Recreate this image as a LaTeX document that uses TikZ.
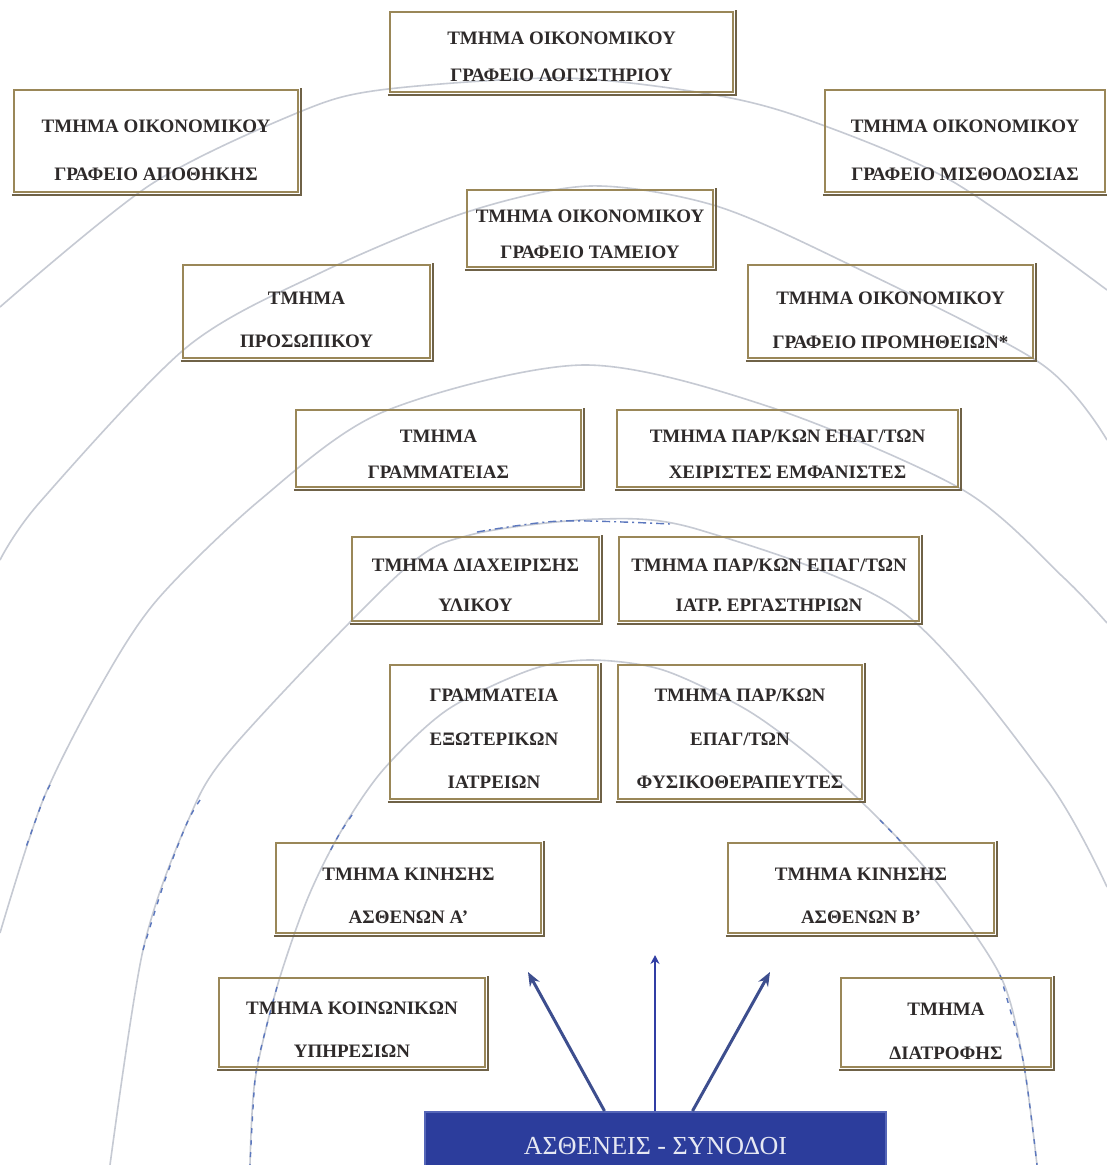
\documentclass[tikz,border=0pt]{standalone}
\usepackage{fontspec}
\setmainfont{Liberation Serif}
\usetikzlibrary{arrows.meta}

\definecolor{frame}{HTML}{9A8758}
\definecolor{frameshade}{HTML}{6F6247}
\definecolor{ring}{HTML}{C6CAD3}
\definecolor{ringblue}{HTML}{5B77BE}
\definecolor{navy}{HTML}{2C3D9C}
\definecolor{navyedge}{HTML}{5566B8}
\definecolor{ink}{HTML}{2E2A2A}
\definecolor{arrowblue}{HTML}{3D4E8E}

\tikzset{
  deptframe/.style={draw=frame, line width=2.4pt, inner sep=0pt},
  depttext/.style={text=ink, align=center, inner sep=0pt,
    font=\fontsize{19}{#1}\selectfont\bfseries},
  ringline/.style={ring, line width=1.6pt},
  ringdash/.style={ringblue, line width=1.4pt, dash pattern=on 5pt off 7pt},
  flow/.style={arrowblue, line width=3pt, -{Stealth[length=14pt,width=11pt]}},
}
% darker lower/right edge of a department box
\newcommand\shadebox[1]{%
  \draw[frameshade, line width=2.4pt]
    ([shift={(-1,1.8)}]#1.south west) -- ([shift={(1.8,1.8)}]#1.south east)
    -- ([shift={(1.8,-1)}]#1.north east);}
% department: name, centre x, centre y, width, height, line spacing, text drop, text
\newcommand\deptbox[8]{%
  \node[deptframe, minimum width=#4, minimum height=#5] (#1) at (#2,#3) {};
  \node[depttext=#6] (#1-text) at ([yshift=-#7]#1.center) {#8};
  \shadebox{#1}}

\begin{document}
\begin{tikzpicture}[x=1pt, y=-1pt]
\clip (0,0) rectangle (1107,1165);
\fill[white] (0,0) rectangle (1107,1165);

% concentric rings around the patients
\draw[ringline] plot[smooth] coordinates {(0,307) (150,185) (297,113) (380,90) (560,78) (703,93) (800,117) (950,180) (1107,290)};
\draw[ringline] plot[smooth] coordinates {(0,560) (40,502) (187,347) (320,273) (467,212) (590,186) (713,205) (840,260) (1040,363) (1107,440)};
\draw[ringline] plot[smooth] coordinates {(0,933) (43,800) (100,687) (157,600) (260,500) (383,412) (583,365) (770,407) (963,490) (1063,577) (1107,623)};
\draw[ringline] plot[smooth] coordinates {(110,1165) (143,950) (187,823) (233,747) (400,573) (470,535) (600,519) (700,530) (900,610) (1047,780) (1107,887)};
\draw[ringline] plot[smooth] coordinates {(250,1165) (255,1080) (277,987) (307,900) (340,833) (383,770) (447,710) (530,670) (590,660) (663,670) (747,710) (815,760) (875,815) (935,880) (1000,975) (1023,1060) (1037,1165)};

% blue dashed stretches of the rings
\draw[ringdash] plot[smooth] coordinates {(50,785) (43,800) (25,850)};
\draw[ringdash] plot[smooth] coordinates {(200,800) (187,823) (165,880) (143,950)};
\draw[ringblue, line width=1.4pt, dash pattern=on 8pt off 4pt on 2pt off 4pt] plot[smooth] coordinates {(477,532) (560,521) (670,524)};
\draw[ringdash] plot[smooth] coordinates {(352,815) (340,833) (328,855)};
\draw[ringdash] plot[smooth] coordinates {(277,987) (263,1040) (255,1080) (250,1165)};
\draw[ringdash] plot[smooth] coordinates {(880,820) (905,846)};
\draw[ringdash] plot[smooth] coordinates {(1000,975) (1023,1060) (1037,1165)};

% departments
\deptbox{logist}{561.5}{52}{343}{80}{37}{4.5}{ΤΜΗΜΑ ΟΙΚΟΝΟΜΙΚΟΥ\\ΓΡΑΦΕΙΟ ΛΟΓΙΣΤΗΡΙΟΥ}
\deptbox{apoth}{156}{141}{284}{102}{48}{9}{ΤΜΗΜΑ ΟΙΚΟΝΟΜΙΚΟΥ\\ΓΡΑΦΕΙΟ ΑΠΟΘΗΚΗΣ}
\deptbox{misth}{965}{141}{280}{102}{48}{9}{ΤΜΗΜΑ ΟΙΚΟΝΟΜΙΚΟΥ\\ΓΡΑΦΕΙΟ ΜΙΣΘΟΔΟΣΙΑΣ}
\deptbox{tamei}{590}{228.5}{246}{77}{36}{5.5}{ΤΜΗΜΑ ΟΙΚΟΝΟΜΙΚΟΥ\\ΓΡΑΦΕΙΟ ΤΑΜΕΙΟΥ}
\deptbox{prosop}{306.5}{311.5}{247}{93}{43}{8}{ΤΜΗΜΑ\\ΠΡΟΣΩΠΙΚΟΥ}
\deptbox{prom}{890.5}{311.5}{285}{93}{44}{8.5}{ΤΜΗΜΑ ΟΙΚΟΝΟΜΙΚΟΥ\\ΓΡΑΦΕΙΟ ΠΡΟΜΗΘΕΙΩΝ*}
\deptbox{gramm}{438.5}{448.5}{285}{77}{36}{5.5}{ΤΜΗΜΑ\\ΓΡΑΜΜΑΤΕΙΑΣ}
\deptbox{emfan}{787.5}{448.5}{341}{77}{36}{5.5}{ΤΜΗΜΑ ΠΑΡ/ΚΩΝ ΕΠΑΓ/ΤΩΝ\\ΧΕΙΡΙΣΤΕΣ ΕΜΦΑΝΙΣΤΕΣ}
\deptbox{ylik}{475.5}{579}{247}{84}{40}{6}{ΤΜΗΜΑ ΔΙΑΧΕΙΡΙΣΗΣ\\ΥΛΙΚΟΥ}
\deptbox{ergast}{769}{579}{300}{84}{40}{6}{ΤΜΗΜΑ ΠΑΡ/ΚΩΝ ΕΠΑΓ/ΤΩΝ\\ΙΑΤΡ. ΕΡΓΑΣΤΗΡΙΩΝ}
\deptbox{exot}{494}{732}{208}{134}{43.5}{7}{ΓΡΑΜΜΑΤΕΙΑ\\ΕΞΩΤΕΡΙΚΩΝ\\ΙΑΤΡΕΙΩΝ}
\deptbox{fysik}{740}{732}{244}{134}{43.5}{7}{ΤΜΗΜΑ ΠΑΡ/ΚΩΝ\\ΕΠΑΓ/ΤΩΝ\\ΦΥΣΙΚΟΘΕΡΑΠΕΥΤΕΣ}
\deptbox{kinA}{408.5}{888}{265}{90}{43}{7.5}{ΤΜΗΜΑ ΚΙΝΗΣΗΣ\\ΑΣΘΕΝΩΝ Α'}
\deptbox{kinB}{861}{888}{266}{90}{43}{7.5}{ΤΜΗΜΑ ΚΙΝΗΣΗΣ\\ΑΣΘΕΝΩΝ Β'}
\deptbox{koin}{352}{1022.5}{266}{89}{43}{7}{ΤΜΗΜΑ ΚΟΙΝΩΝΙΚΩΝ\\ΥΠΗΡΕΣΙΩΝ}
\deptbox{diatr}{946}{1022.5}{210}{89}{44}{8.5}{ΤΜΗΜΑ\\ΔΙΑΤΡΟΦΗΣ}

% patients and companions
\node[fill=navy, draw=navyedge, line width=2pt, minimum width=461, minimum height=58,
      text height=27pt, text depth=0pt,
      text=white!88!navy, font=\fontsize{26}{30}\selectfont] (patients) at (655.5,1141) {ΑΣΘΕΝΕΙΣ - ΣΥΝΟΔΟΙ};

\coordinate (tipL) at (528,972);
\coordinate (tipM) at (655,955);
\coordinate (tipR) at (770,972);
\draw[flow] ([xshift=-51]patients.north) -- (tipL);
\draw[arrowblue!80!blue, line width=2pt, -{Stealth[length=9pt,width=9pt]}] ([xshift=-0.5]patients.north) -- (tipM);
\draw[flow] ([xshift=37]patients.north) -- (tipR);
\end{tikzpicture}
\end{document}
